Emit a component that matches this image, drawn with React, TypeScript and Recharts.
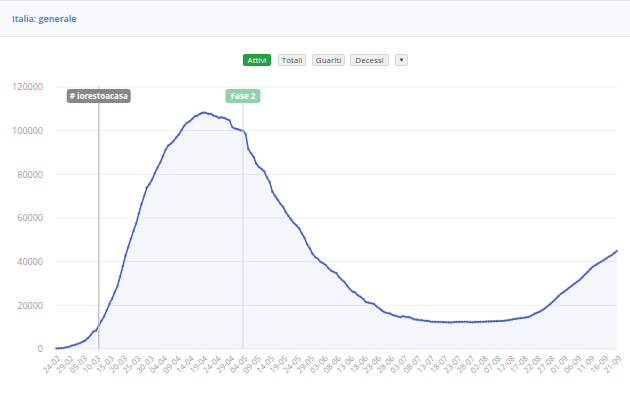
import React from 'react';
import { AreaChart, Area, XAxis, YAxis, CartesianGrid, ReferenceLine } from 'recharts';

// mesi e primo giorno di ogni mese nel grafico
const mesi = ['02', '03', '04', '05', '06', '07', '08', '09'];
const primoGiorno = [24, 1, 1, 1, 1, 1, 1, 1];

// attualmente positivi, giorno per giorno
const attiviFeb = [221, 311, 385, 588, 821, 1049];
const attiviMar = [
  1577, 1835, 2263, 2706, 3296, 3916, 5061, 6387, 7985, 8514, 10590, 12839, 14955, 17750, 20603, 23073,
  26062, 28710, 33190, 37860, 42681, 46638, 50418, 54030, 57521, 62013, 66414, 70065, 73880, 75528, 77635,
];
const attiviApr = [
  80572, 83049, 85388, 88274, 91246, 93187, 94067, 95262, 96877, 98273, 100269, 102253, 103616, 104291, 105418,
  106607, 106962, 107771, 108257, 108237, 107709, 107699, 106848, 106527, 105847, 106103, 105813, 105205, 104657,
  101551,
];
const attiviMag = [
  100943, 100704, 100179, 99980, 98467, 91528, 89624, 87961, 84842, 83324, 82488, 81266, 78457, 76440, 72070,
  70187, 68351, 66553, 65129, 62752, 60960, 59322, 57752, 56594, 55300, 52942, 50966, 47986, 46175, 43691, 42075,
];
const attiviGiu = [
  41367, 39893, 39297, 38429, 36976, 35877, 35262, 34730, 32872, 31710, 30637, 28997, 27485, 26274, 25909, 24569,
  23925, 22909, 21543, 21212, 20972, 20637, 19573, 18655, 17638, 16836, 16496, 16248, 15563, 15255,
];
const attiviLug = [
  14884, 14621, 15060, 14642, 14621, 14242, 13595, 13459, 13303, 13179, 12919, 12868, 12581, 12493, 12456, 12404,
  12368, 12301, 12248, 12209, 12156, 12368, 12404, 12442, 12456, 12474, 12482, 12322, 12230, 12401, 12422,
];
const attiviAgo = [
  12456, 12457, 12565, 12616, 12646, 12700, 12750, 12820, 12900, 13000, 13150, 13350, 13600, 13800, 14000, 14150,
  14300, 14500, 14700, 15300, 16000, 16600, 17100, 17800, 18600, 19600, 20600, 21700, 22900, 24100, 25300,
];
const attiviSet = [
  26100, 27000, 28000, 28900, 29800, 30700, 31600, 32800, 34100, 35300, 36600, 37700, 38500, 39200, 39900, 40700,
  41500, 42300, 43000, 43900, 44900,
];

const attiviPerMese = [attiviFeb, attiviMar, attiviApr, attiviMag, attiviGiu, attiviLug, attiviAgo, attiviSet];
const yTicks = [0, 20000, 40000, 60000, 80000, 100000, 120000];
const pulsanti = ['Attivi', 'Totali', 'Guariti', 'Decessi'];

const data = attiviPerMese.flatMap((valori, m) =>
  valori.map((v, i) => ({
    giorno: `${String(primoGiorno[m] + i).padStart(2, '0')}-${mesi[m]}`,
    attivi: v,
  }))
);

const XTick = ({ x, y, payload }: any) => (
  <g transform={`translate(${x + 3},${y + 6})`}>
    <text textAnchor="end" transform="rotate(-45)" fontSize={8} fill="#9a9a9a" dy="0.35em">
      {payload.value}
    </text>
  </g>
);

const Badge = ({ viewBox, text, bg, w }: any) => {
  const cx = viewBox.x;
  const top = viewBox.y + 2;
  return (
    <g>
      <rect x={cx - w / 2} y={top} width={w} height={14} rx={3} fill={bg} />
      <text x={cx} y={top + 7} dy="0.35em" textAnchor="middle" fontSize={8} fontWeight={700} fill="#fff">
        {text}
      </text>
    </g>
  );
};

const btnPos = [
  { left: 243, width: 28 },
  { left: 278, width: 28 },
  { left: 312, width: 33 },
  { left: 350, width: 39 },
];

export default function App() {
  return (
    <div style={{ position: 'absolute', left: 0, top: 0, width: 630, height: 399, background: '#fff', fontFamily: '"Open Sans", sans-serif', overflow: 'hidden' }}>
      <div style={{ position: 'absolute', left: 0, top: 0, width: 630, height: 35, background: '#f8f9fc', borderTop: '1px solid #e4e7ef', borderBottom: '1px solid #e6e9f0' }}>
        <div style={{ position: 'absolute', left: 12, top: 11, fontSize: 9, fontWeight: 600, color: '#3b7ad6' }}>Italia: generale</div>
      </div>

      {pulsanti.map((p, i) => (
        <div
          key={p}
          style={{
            position: 'absolute',
            top: 54,
            left: btnPos[i].left,
            width: btnPos[i].width,
            height: 12,
            boxSizing: 'border-box',
            borderRadius: 2,
            border: i === 0 ? '1px solid #1d9a3c' : '1px solid #d6d6d6',
            background: i === 0 ? '#22a343' : '#efefef',
            color: i === 0 ? '#fff' : '#555',
            fontSize: 8,
            lineHeight: '10px',
            textAlign: 'center',
          }}
        >
          {p}
        </div>
      ))}
      <div style={{ position: 'absolute', top: 54, left: 395, width: 13, height: 12, boxSizing: 'border-box', borderRadius: 2, border: '1px solid #d6d6d6', background: '#efefef', color: '#444', fontSize: 6, lineHeight: '10px', textAlign: 'center' }}>▼</div>

      <div style={{ position: 'absolute', left: 0, top: 0 }}>
        <AreaChart width={630} height={399} data={data} margin={{ top: 87, right: 13, bottom: 10, left: 0 }}>
          <CartesianGrid vertical={false} stroke="#efefef" />
          <XAxis dataKey="giorno" interval={4} tick={<XTick />} tickLine={false} axisLine={false} tickSize={0} height={40} />
          <YAxis
            domain={[0, 120000]}
            ticks={yTicks}
            width={56}
            axisLine={false}
            tickLine={false}
            tickSize={0}
            tickMargin={13}
            tick={{ fontSize: 9, fill: '#9a9a9a' }}
          />
          <Area
            type="linear"
            dataKey="attivi"
            stroke="#4563c2"
            strokeWidth={1.6}
            fill="#4563c2"
            fillOpacity={0.06}
            dot={{ r: 1, fill: '#4563c2', stroke: '#4563c2', strokeWidth: 0.5 }}
            isAnimationActive={false}
          />
          <ReferenceLine x="11-03" stroke="#c6c6c6" strokeWidth={1.5} label={<Badge text="# iorestoacasa" bg="#878787" w={64} />} />
          <ReferenceLine x="04-05" stroke="#e1e4ed" strokeWidth={1.5} label={<Badge text="Fase 2" bg="#8fd4a8" w={35} />} />
        </AreaChart>
      </div>
    </div>
  );
}
